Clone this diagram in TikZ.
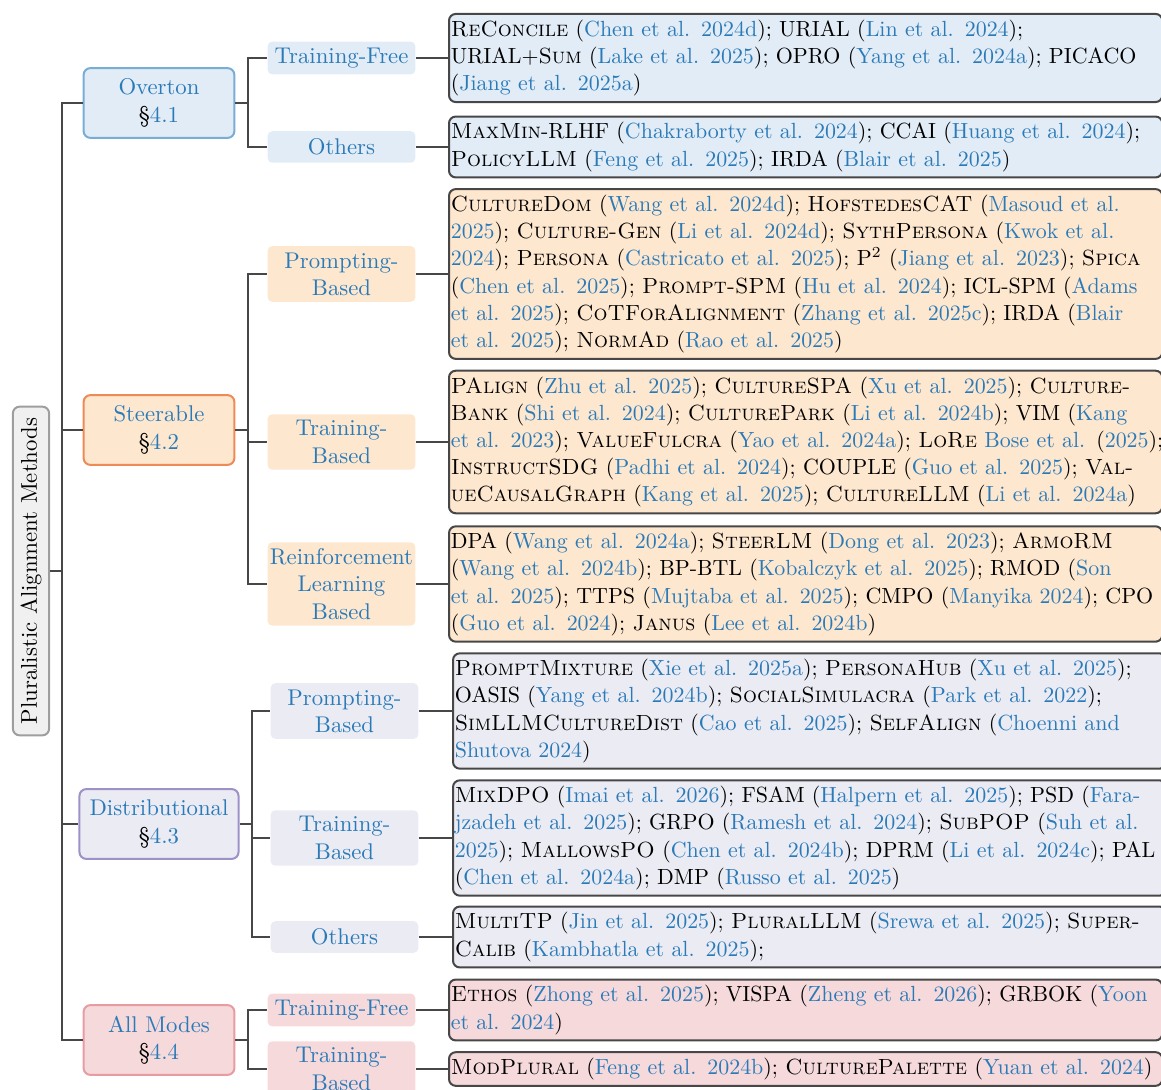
\documentclass[tikz,border=0pt]{standalone}
\usepackage{tikz}
\usetikzlibrary{positioning}
\definecolor{lnk}{HTML}{2A7AB8}
\definecolor{lncol}{HTML}{474747}
\definecolor{ovfill}{HTML}{E2ECF6}
\definecolor{ovline}{HTML}{78ADD5}
\definecolor{stfill}{HTML}{FDE7CF}
\definecolor{stline}{HTML}{EE8B55}
\definecolor{difill}{HTML}{EBEBF4}
\definecolor{diline}{HTML}{9C92C8}
\definecolor{amfill}{HTML}{F6D9DB}
\definecolor{amline}{HTML}{E69CA2}
\newcommand{\cit}[1]{\textcolor{lnk}{#1}}
\newcommand{\sect}[1]{{\color{black}\S}#1}
\tikzstyle{rootbox} = [rectangle, rounded corners=3pt, rotate=90, draw=black!38, fill=black!6, line width=0.9pt, inner xsep=5pt, inner ysep=3.4pt]
\tikzstyle{catbox} = [rectangle, rounded corners=3pt, line width=0.9pt, minimum width=67pt, minimum height=31pt, align=center, text=lnk, inner xsep=4.5pt, inner ysep=2pt]
\tikzstyle{subbox} = [rectangle, rounded corners=2pt, text width=64pt, align=center, text=lnk, inner xsep=0.8pt, inner ysep=2.8pt, minimum height=14pt]
\tikzstyle{leafbox} = [rectangle, rounded corners=3pt, draw=lncol, line width=0.9pt, text width=315.4pt, align=left, inner xsep=0.8pt, inner ysep=2.6pt, anchor=west, font=\fontsize{9.75}{12.1}\selectfont]
\tikzstyle{link} = [lncol, line width=0.9pt]

\begin{document}
\begin{tikzpicture}[x=0.4444pt, y=-0.4444pt, font=\fontsize{10.1}{12.1}\selectfont]
		\useasboundingbox (0,0) rectangle (1161,1090);
		% root and first level
		\node (root) [rootbox] at (31,571) {Pluralistic Alignment Methods};
		\node (ov) [catbox, fill=ovfill, draw=ovline] at (159,103) {Overton\\\sect{4.1}};
		\node (st) [catbox, fill=stfill, draw=stline] at (159,430) {Steerable\\\sect{4.2}};
		\node (di) [catbox, fill=difill, draw=diline] at (159,824) {Distributional\\\sect{4.3}};
		\node (am) [catbox, fill=amfill, draw=amline] at (159,1040) {All Modes\\\sect{4.4}};
		% second level
		\node (ovA) [subbox, fill=ovfill] at (341.5,58) {\mbox{Training-Free}};
		\node (ovB) [subbox, fill=ovfill] at (341.5,147) {Others};
		\node (stA) [subbox, fill=stfill] at (341.5,274) {Prompting-\\Based};
		\node (stB) [subbox, fill=stfill] at (341.5,442) {Training-\\Based};
		\node (stC) [subbox, fill=stfill] at (341.5,584) {Reinforcement\\Learning\\Based};
		\node (diA) [subbox, fill=difill] at (344.5,711) {Prompting-\\Based};
		\node (diB) [subbox, fill=difill] at (344.5,838) {Training-\\Based};
		\node (diC) [subbox, fill=difill] at (344.5,937) {Others};
		\node (amA) [subbox, fill=amfill] at (341.5,1010) {\mbox{Training-Free}};
		\node (amB) [subbox, fill=amfill] at (341.5,1069) {Training-\\Based};
		% leaves
		\node (ovAl) [leafbox, fill=ovfill] at (448,58) {\textsc{ReConcile} (\cit{Chen et al. 2024d}); URIAL (\cit{Lin et al. 2024});\\
			URIAL+\textsc{Sum} (\cit{Lake et al. 2025}); OPRO (\cit{Yang et al. 2024a}); \mbox{PICACO}\\
			(\cit{Jiang et al. 2025a})};
		\node (ovBl) [leafbox, fill=ovfill] at (448,147) {\textsc{MaxMin}-RLHF (\cit{Chakraborty et al. 2024}); CCAI (\cit{Huang et al. 2024});\\
			\textsc{PolicyLLM} (\cit{Feng et al. 2025}); IRDA (\cit{Blair et al. 2025})};
		\node (stAl) [leafbox, fill=stfill] at (448,274) {\textsc{CultureDom} (\cit{Wang et al. 2024d}); \textsc{HofstedesCAT} (\cit{Masoud et al.}\\
			\cit{2025}); \textsc{Culture-Gen} (\cit{Li et al. 2024d}); \textsc{SythPersona} (\cit{Kwok et al.}\\
			\cit{2024}); \textsc{Persona} (\cit{Castricato et al. 2025}); P\textsuperscript{2} (\cit{Jiang et al. 2023}); \textsc{Spica}\\
			(\cit{Chen et al. 2025}); \textsc{Prompt-SPM} (\cit{Hu et al. 2024}); ICL-SPM (\cit{Adams}\\
			\cit{et al. 2025}); \textsc{CoTForAlignment} (\cit{Zhang et al. 2025c}); IRDA (\cit{Blair}\\
			\cit{et al. 2025}); \textsc{NormAd} (\cit{Rao et al. 2025})};
		\node (stBl) [leafbox, fill=stfill] at (448,442) {\textsc{PAlign} (\cit{Zhu et al. 2025}); \textsc{CultureSPA} (\cit{Xu et al. 2025}); \mbox{\textsc{Culture-}}\\
			\textsc{Bank} (\cit{Shi et al. 2024}); \textsc{CulturePark} (\cit{Li et al. 2024b}); VIM (\cit{Kang}\\
			\leavevmode\hbox to \linewidth{\cit{et al. 2023}); \textsc{ValueFulcra} (\cit{Yao et al. 2024a}); \textsc{LoRe} \cit{Bose et al.} (\cit{2025});}\\
			\textsc{InstructSDG} (\cit{Padhi et al. 2024}); COUPLE (\cit{Guo et al. 2025}); \mbox{\textsc{Val-}}\\
			\textsc{ueCausalGraph} (\cit{Kang et al. 2025}); \textsc{CultureLLM} (\cit{Li et al. 2024a})};
		\node (stCl) [leafbox, fill=stfill] at (448,584) {DPA (\cit{Wang et al. 2024a}); \textsc{SteerLM} (\cit{Dong et al. 2023}); \mbox{\textsc{ArmoRM}}\\
			(\cit{Wang et al. 2024b}); BP-BTL (\cit{Kobalczyk et al. 2025}); RMOD (\cit{Son}\\
			\cit{et al. 2025}); TTPS (\cit{Mujtaba et al. 2025}); CMPO (\cit{Manyika 2024}); CPO\\
			(\cit{Guo et al. 2024}); \textsc{Janus} (\cit{Lee et al. 2024b})};
		\node (diAl) [leafbox, fill=difill] at (452,711) {\textsc{PromptMixture} (\cit{Xie et al. 2025a}); \textsc{PersonaHub} (\cit{Xu et al. 2025});\\
			OASIS (\cit{Yang et al. 2024b}); \textsc{SocialSimulacra} (\cit{Park et al. 2022});\\
			\textsc{SimLLMCultureDist} (\cit{Cao et al. 2025}); \textsc{SelfAlign} (\cit{Choenni and}\\
			\cit{Shutova 2024})};
		\node (diBl) [leafbox, fill=difill] at (452,838) {\textsc{MixDPO} (\cit{Imai et al. 2026}); FSAM (\cit{Halpern et al. 2025}); PSD (\cit{\mbox{Fara-}}\\
			\cit{jzadeh et al. 2025}); GRPO (\cit{Ramesh et al. 2024}); \textsc{SubPOP} (\cit{Suh et al.}\\
			\cit{2025}); \textsc{MallowsPO} (\cit{Chen et al. 2024b}); DPRM (\cit{Li et al. 2024c}); PAL\\
			(\cit{Chen et al. 2024a}); DMP (\cit{Russo et al. 2025})};
		\node (diCl) [leafbox, fill=difill] at (452,937) {\textsc{MultiTP} (\cit{Jin et al. 2025}); \textsc{PluralLLM} (\cit{Srewa et al. 2025}); \mbox{\textsc{Super-}}\\
			\textsc{Calib} (\cit{Kambhatla et al. 2025});};
		\node (amAl) [leafbox, fill=amfill] at (448,1010) {\textsc{Ethos} (\cit{Zhong et al. 2025}); VISPA (\cit{Zheng et al. 2026}); GRBOK (\cit{Yoon}\\
			\cit{et al. 2024})};
		\node (amBl) [leafbox, fill=amfill] at (448,1069) {\textsc{ModPlural} (\cit{Feng et al. 2024b}); \textsc{CulturePalette} (\cit{Yuan et al. 2024})};
		% connectors
		\coordinate (trunk) at (62,571);
		\draw [link] (root.south) -- (trunk);
		\foreach \c in {ov,st,di,am}
			\draw [link] (trunk) |- (\c.west);
		\draw [link] (ov.east) -- ++(13,0) coordinate (ovj);
		\draw [link] (st.east) -- ++(13,0) coordinate (stj);
		\draw [link] (di.east) -- ++(12,0) coordinate (dij);
		\draw [link] (am.east) -- ++(13,0) coordinate (amj);
		\foreach \p/\c in {ovj/ovA,ovj/ovB,stj/stA,stj/stB,stj/stC,dij/diA,dij/diB,dij/diC,amj/amA,amj/amB}
			\draw [link] (\p) |- (\c.west);
		\foreach \c in {ovA,ovB,stA,stB,stC,diA,diB,diC,amA,amB}
			\draw [link] (\c.east) -- (\c l.west);
		\end{tikzpicture}
\end{document}
